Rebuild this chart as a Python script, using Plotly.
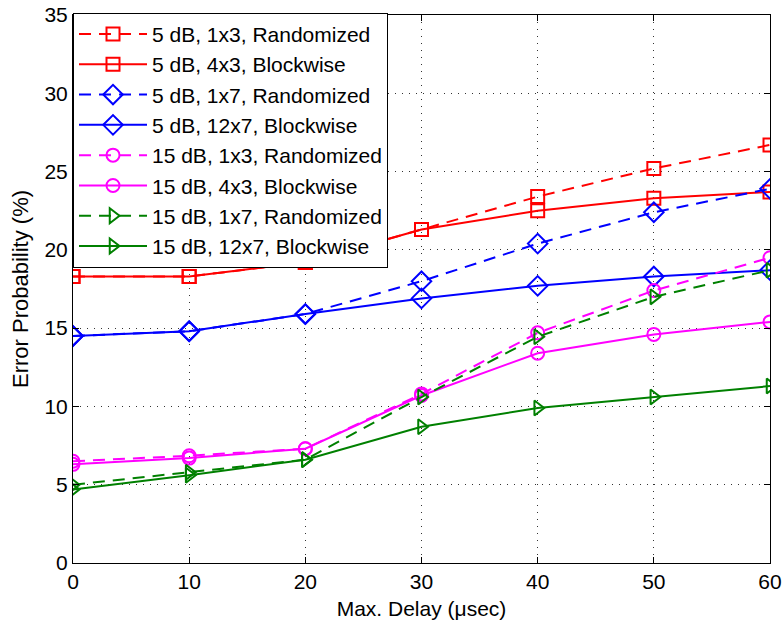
import plotly.graph_objects as go

delay = [0, 10, 20, 30, 40, 50, 60]

names = [
    "5 dB, 1x3, Randomized",
    "5 dB, 4x3, Blockwise",
    "5 dB, 1x7, Randomized",
    "5 dB, 12x7, Blockwise",
    "15 dB, 1x3, Randomized",
    "15 dB, 4x3, Blockwise",
    "15 dB, 1x7, Randomized",
    "15 dB, 12x7, Blockwise",
]

snr5_1x3_rand = [18.3, 18.3, 19.2, 21.3, 23.4, 25.2, 26.7]
snr5_4x3_block = [18.3, 18.3, 19.2, 21.3, 22.5, 23.3, 23.7]
snr5_1x7_rand = [14.5, 14.8, 15.9, 18.0, 20.4, 22.4, 23.9]
snr5_12x7_block = [14.5, 14.8, 15.9, 16.9, 17.7, 18.3, 18.7]
snr15_1x3_rand = [6.5, 6.85, 7.3, 10.8, 14.7, 17.4, 19.5]
snr15_4x3_block = [6.3, 6.7, 7.3, 10.7, 13.4, 14.6, 15.4]
snr15_1x7_rand = [5.0, 5.8, 6.6, 10.6, 14.45, 17.0, 18.7]
snr15_12x7_block = [4.7, 5.6, 6.6, 8.7, 9.9, 10.6, 11.3]

series = [snr5_1x3_rand, snr5_4x3_block, snr5_1x7_rand, snr5_12x7_block,
          snr15_1x3_rand, snr15_4x3_block, snr15_1x7_rand, snr15_12x7_block]
colors = ["#FF0000", "#FF0000", "#0000FF", "#0000FF",
          "#FF00FF", "#FF00FF", "#008000", "#008000"]
symbols = ["square-open", "square-open", "diamond-open", "diamond-open",
           "circle-open", "circle-open", "triangle-right-open", "triangle-right-open"]
dashes = ["12px,8px", "solid"] * 4

FONT = "Liberation Sans, Arial, sans-serif"

fig = go.Figure()
for i, (nm, ys) in enumerate(zip(names, series)):
    fig.add_trace(go.Scatter(
        x=delay, y=ys, name=nm, mode="lines+markers",
        line=dict(color=colors[i], width=2, dash=dashes[i]),
        marker=dict(symbol=symbols[i], size=15 if "diamond" in symbols[i] else 13,
                    color=colors[i], line=dict(color=colors[i], width=2)),
    ))

axis_common = dict(
    showline=True, linecolor="black", linewidth=1, mirror="allticks",
    ticks="inside", ticklen=6, tickcolor="black",
    showgrid=True, gridcolor="#333333", gridwidth=1, griddash="1px,6px",
    zeroline=False, automargin=False, ticklabeloverflow="allow",
    tickfont=dict(family=FONT, size=21, color="black"),
)

fig.update_xaxes(range=[0, 60], tickvals=[0, 10, 20, 30, 40, 50, 60],
                 title=dict(text="Max. Delay (μsec)", standoff=9,
                            font=dict(family=FONT, size=21, color="black")),
                 **axis_common)
fig.update_yaxes(range=[0, 35], tickvals=[0, 5, 10, 15, 20, 25, 30, 35],
                 title=dict(text="Error Probability (%)", standoff=9,
                            font=dict(family=FONT, size=22, color="black")),
                 **axis_common)

fig.update_layout(
    width=783, height=623,
    margin=dict(l=73, r=13, t=15, b=60, autoexpand=False),
    plot_bgcolor="white", paper_bgcolor="white",
    font=dict(family=FONT, size=20, color="black"),
    legend=dict(
        x=0, y=1.004, xanchor="left", yanchor="top",
        bgcolor="white", bordercolor="black", borderwidth=1,
        font=dict(family=FONT, size=21, color="black"),
        itemwidth=68, tracegroupgap=0,
    ),
)

fig.write_html("out.html",
               config={"displayModeBar": False},
               post_script="document.body.style.margin='0px';document.body.style.overflow='hidden';")
